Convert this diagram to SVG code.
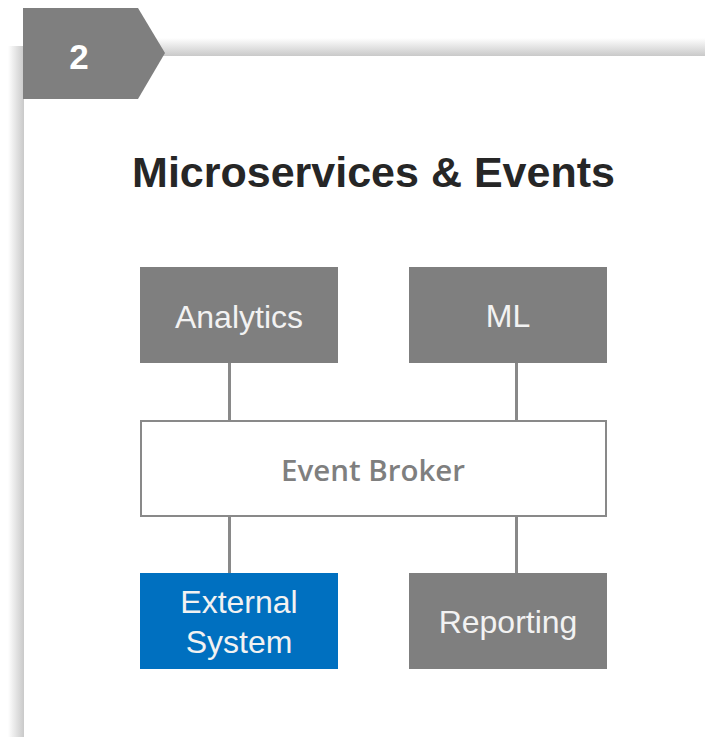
<svg xmlns="http://www.w3.org/2000/svg" width="705" height="737" viewBox="0 0 705 737">
  <defs>
    <linearGradient id="shadeTop" x1="0" y1="0" x2="0" y2="1">
      <stop offset="0" stop-color="#ffffff"/>
      <stop offset="1" stop-color="#c9c9c9"/>
    </linearGradient>
    <linearGradient id="shadeLeft" x1="0" y1="0" x2="1" y2="0">
      <stop offset="0" stop-color="#ffffff"/>
      <stop offset="1" stop-color="#c9c9c9"/>
    </linearGradient>
    <style>
      .box { fill: #7f7f7f; }
      .blue { fill: #0070c0; }
      .label { font-family: "Liberation Sans", Arial, sans-serif; font-size: 32px; fill: #f2f2f2; text-anchor: middle; }
      .wire { stroke: #898989; stroke-width: 3; fill: none; }
    </style>
  </defs>

  <!-- page background and card with soft shadow on top/left -->
  <rect x="0" y="0" width="705" height="737" fill="#ffffff"/>
  <rect x="24" y="38" width="681" height="18" fill="url(#shadeTop)"/>
  <rect x="8" y="46" width="16" height="691" fill="url(#shadeLeft)"/>
  <rect x="24" y="56" width="681" height="681" fill="#ffffff"/>

  <!-- step tab -->
  <g id="step-tab">
    <polygon points="23,8 138,8 165,53 138,99 23,99" fill="#7f7f7f"/>
    <text x="79" y="69" font-family="Liberation Sans, Arial, sans-serif" font-size="35" font-weight="bold" fill="#ffffff" text-anchor="middle">2</text>
  </g>

  <!-- title -->
  <text id="title" x="373.5" y="187" font-family="Liberation Sans, Arial, sans-serif" font-size="43" font-weight="bold" fill="#262626" text-anchor="middle">Microservices &amp; Events</text>

  <!-- connectors -->
  <g id="connectors">
    <line class="wire" x1="229.5" y1="363" x2="229.5" y2="420"/>
    <line class="wire" x1="516.5" y1="363" x2="516.5" y2="420"/>
    <line class="wire" x1="229.5" y1="516" x2="229.5" y2="573"/>
    <line class="wire" x1="516.5" y1="516" x2="516.5" y2="573"/>
  </g>

  <g id="analytics">
    <rect class="box" x="140" y="267" width="198" height="96"/>
    <text class="label" x="239" y="328">Analytics</text>
  </g>

  <g id="ml">
    <rect class="box" x="409" y="267" width="198" height="96"/>
    <text class="label" x="508" y="327">ML</text>
  </g>

  <g id="event-broker">
    <rect x="141" y="421" width="465" height="95" fill="#ffffff" stroke="#898989" stroke-width="2"/>
    <text x="373" y="481" font-family="Open Sans, sans-serif" font-size="29.5" font-weight="600" fill="#7f7f7f" text-anchor="middle">Event Broker</text>
  </g>

  <g id="external-system">
    <rect class="blue" x="140" y="573" width="198" height="96"/>
    <text class="label" x="239" y="613">External</text>
    <text class="label" x="239" y="653">System</text>
  </g>

  <g id="reporting">
    <rect class="box" x="409" y="573" width="198" height="96"/>
    <text class="label" x="508" y="633">Reporting</text>
  </g>
</svg>
